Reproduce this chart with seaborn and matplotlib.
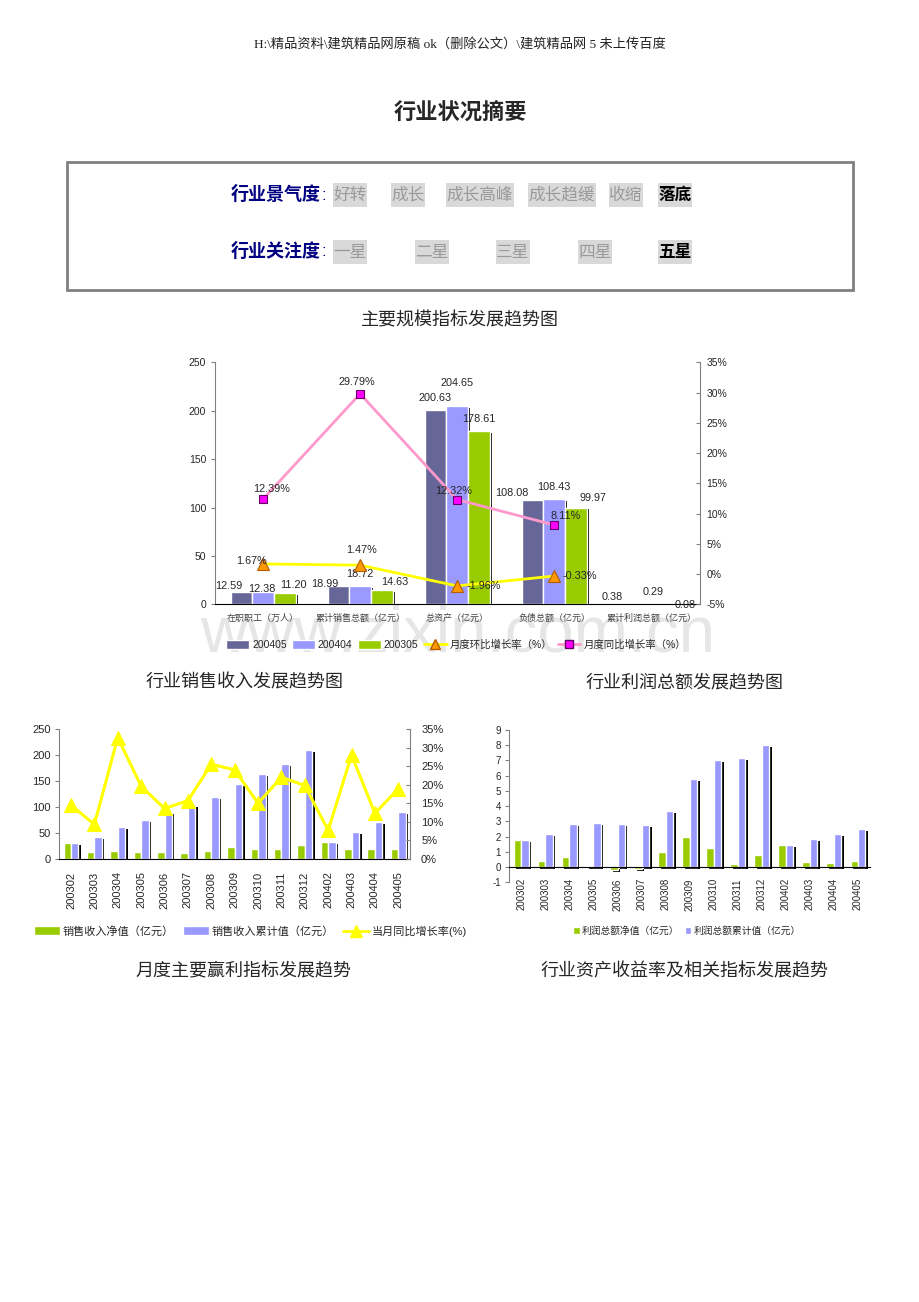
import numpy as np
import pandas as pd
import matplotlib
matplotlib.use('Agg')
import matplotlib.pyplot as plt
import matplotlib.patheffects as pe
from matplotlib.patches import Patch, Rectangle
from matplotlib.lines import Line2D
from matplotlib.ticker import FuncFormatter
import seaborn as sns

sns.set_style('white')
plt.rcParams['font.family'] = ['Liberation Sans', 'Noto Sans CJK SC', 'DejaVu Sans']
plt.rcParams['axes.unicode_minus'] = False

# ---- data: main scale indicators
SCALE_CATS = ['在职职工（万人）', '累计销售总额（亿元）', '总资产（亿元）', '负债总额（亿元）', '累计利润总额（亿元）']
PERIODS = ['200405', '200404', '200305']
VAL_200405 = [12.59, 18.99, 200.63, 108.08, 0.38]
VAL_200404 = [12.38, 18.72, 204.65, 108.43, 0.29]
VAL_200305 = [11.20, 14.63, 178.61, 99.97, 0.08]
MOM_RATE = [1.67, 1.47, -1.96, -0.33]
YOY_RATE = [12.39, 29.79, 12.32, 8.11]

# ---- data: monthly sales / profit
MONTHS = ['200302', '200303', '200304', '200305', '200306', '200307', '200308', '200309',
          '200310', '200311', '200312', '200402', '200403', '200404', '200405']
SALES_NET = [31, 14, 16, 14, 14, 12, 16, 23, 19, 19, 27, 33, 19, 19, 19]
SALES_CUM = [31, 43, 61, 75, 90, 104, 120, 144, 163, 182, 209, 33, 52, 72, 90]
SALES_YOY = [14.5, 9.3, 32.7, 19.6, 13.6, 15.7, 25.5, 24.0, 15.0, 22.0, 19.8, 7.7, 28.0, 12.3, 18.9]
PROFIT_NET = [1.79, 0.41, 0.65, 0.09, -0.18, -0.12, 1.00, 1.99, 1.24, 0.20, 0.81, 1.46, 0.35, 0.30, 0.41]
PROFIT_CUM = [1.79, 2.20, 2.84, 2.90, 2.82, 2.77, 3.69, 5.76, 7.00, 7.14, 7.99, 1.46, 1.86, 2.16, 2.49]

# ---- summary box labels
MOOD_ITEMS = ['好转', '成长', '成长高峰', '成长趋缓', '收缩', '落底']
STAR_ITEMS = ['一星', '二星', '三星', '四星', '五星']

C_SLATE = '#666699'
C_LILAC = '#9999FF'
C_GREEN = '#99CC00'
C_YELLOW = '#FFFF00'
C_PINK = '#FF99CC'

W, H = 920, 1302
PT = 0.72  # points per pixel at dpi 100


def fx(x):
    return x / W


def fy(y):
    return 1 - y / H


def add_shadow(ax):
    # black drop shadow on the right of every bar (Excel style)
    for p in ax.patches:
        p.set_path_effects([pe.SimplePatchShadow(offset=(1.8, -1.4), shadow_rgbFace='black', alpha=1),
                            pe.Normal()])


fig = plt.figure(figsize=(W / 100, H / 100), dpi=100)

# watermark
fig.text(fx(458), fy(651), 'www.zixin.com.cn', fontsize=47, color='#E6E6E6',
         family=['Liberation Sans Narrow', 'Liberation Sans'],
         ha='center', va='baseline', zorder=-1)

# header + title
fig.text(fx(460), fy(44), 'H:\\精品资料\\建筑精品网原稿 ok（删除公文）\\建筑精品网 5 未上传百度',
         ha='center', va='center', fontsize=9.5, color='#222222',
         family=['Liberation Serif', 'Noto Sans CJK SC'])
fig.text(fx(460), fy(113), '行业状况摘要', ha='center', va='center', fontsize=16, fontweight='bold')

# summary box
fig.patches.append(Rectangle((fx(67), fy(290)), (853 - 67) / W, (290 - 162) / H,
                             transform=fig.transFigure, fill=False, edgecolor='#808080', lw=2))

mood_pos = [(333, 367), (391, 425), (446, 514), (528, 596), (609, 643), (658, 692)]
star_pos = [(333, 367), (415, 449), (496, 530), (578, 612), (658, 692)]
for row_y, title, items, pos in [(195, '行业景气度', MOOD_ITEMS, mood_pos),
                                 (252, '行业关注度', STAR_ITEMS, star_pos)]:
    fig.text(fx(321), fy(row_y), title, ha='right', va='center', fontsize=13,
             fontweight='bold', color='#000080')
    fig.text(fx(322), fy(row_y), ':', ha='left', va='center', fontsize=12, color='#000080')
    for i, (label, (x0, x1)) in enumerate(zip(items, pos)):
        fig.patches.append(Rectangle((fx(x0), fy(row_y + 12)), (x1 - x0) / W, 24 / H,
                                     transform=fig.transFigure, facecolor='#D9D9D9', edgecolor='none'))
        last = i == len(items) - 1
        fig.text(fx((x0 + x1) / 2), fy(row_y), label, ha='center', va='center', fontsize=12,
                 color='black' if last else '#9A9A9A', fontweight='bold' if last else 'normal')

fig.text(fx(460), fy(321), '主要规模指标发展趋势图', ha='center', va='center', fontsize=13)
fig.text(fx(245), fy(683), '行业销售收入发展趋势图', ha='center', va='center', fontsize=13)
fig.text(fx(685), fy(683), '行业利润总额发展趋势图', ha='center', va='center', fontsize=13)
fig.text(fx(243), fy(972), '月度主要赢利指标发展趋势', ha='center', va='center', fontsize=13)
fig.text(fx(685), fy(972), '行业资产收益率及相关指标发展趋势', ha='center', va='center', fontsize=13)

# ================= chart 1: main scale indicators
ax1 = fig.add_axes([fx(214.6), fy(604.3), 485 / W, 242 / H])
ax1.set_facecolor('none')
df1 = pd.DataFrame({
    'cat': SCALE_CATS * 3,
    'period': np.repeat(PERIODS, len(SCALE_CATS)),
    'value': VAL_200405 + VAL_200404 + VAL_200305,
})
sns.barplot(data=df1, x='cat', y='value', hue='period', order=SCALE_CATS, hue_order=PERIODS,
            palette=[C_SLATE, C_LILAC, C_GREEN], width=0.67, saturation=1, errorbar=None,
            legend=False, ax=ax1)
add_shadow(ax1)

# label placement (px, relative to bar top centre), one row per period
bar_lab_off = [
    [(-13, 6), (-14, 2), (0, 12), (-21, 7), (-17, 7)],
    [(-1, 3), (0, 12), (0, 23), (0, 12), (2, 12)],
    [(9, 8), (13, 8), (0, 12), (17, 10), (12, -1)],
]
for cont, offs in zip(ax1.containers, bar_lab_off):
    for bar, (dx, dy) in zip(cont, offs):
        top = bar.get_y() + bar.get_height()
        ax1.annotate(f'{top:.2f}', (bar.get_x() + bar.get_width() / 2, top),
                     xytext=(dx * PT, dy * PT), textcoords='offset points',
                     ha='center', va='center', fontsize=7.8)

ax1b = ax1.twinx()
xpos = np.arange(len(MOM_RATE))
sns.lineplot(x=xpos, y=MOM_RATE, ax=ax1b, color=C_YELLOW, lw=2, marker='^', markersize=8,
             markerfacecolor='#FF9900', markeredgecolor='#B35C00', markeredgewidth=0.8)
sns.lineplot(x=xpos, y=YOY_RATE, ax=ax1b, color=C_PINK, lw=2, marker='s', markersize=6,
             markerfacecolor='#FF00FF', markeredgecolor='#660066', markeredgewidth=0.8)
mom_off = [(-12, 3), (1, 15), (27, 0), (26, 0)]
yoy_off = [(8, 10), (-3, 12), (-4, 9), (12, 9)]
for x, v, (dx, dy) in zip(xpos, MOM_RATE, mom_off):
    ax1b.annotate(f'{v:.2f}%', (x, v), xytext=(dx * PT, dy * PT), textcoords='offset points',
                  ha='center', va='center', fontsize=7.8)
for x, v, (dx, dy) in zip(xpos, YOY_RATE, yoy_off):
    ax1b.annotate(f'{v:.2f}%', (x, v), xytext=(dx * PT, dy * PT), textcoords='offset points',
                  ha='center', va='center', fontsize=7.8)

ax1.set_xlim(-0.5, 4.5)
ax1.set_ylim(0, 250)
ax1.set_yticks(range(0, 251, 50))
ax1b.set_ylim(-5, 35)
ax1b.set_yticks(range(-5, 36, 5))
ax1b.yaxis.set_major_formatter(FuncFormatter(lambda v, _: f'{v:.0f}%'))
ax1.set_xlabel('')
ax1.set_ylabel('')
ax1b.set_ylabel('')
ax1.set_xticks(range(len(SCALE_CATS)))
ax1.set_xticklabels(SCALE_CATS)
ax1.set_xticks(np.arange(0.5, len(SCALE_CATS) - 0.5, 1), minor=True)
ax1.tick_params(axis='x', which='major', length=0, pad=7, labelsize=6.5, labelcolor='#444444')
ax1.tick_params(axis='x', which='minor', direction='in', length=3, color='black')
ax1.tick_params(axis='y', direction='out', length=3, color='#808080', labelsize=7.5, pad=3, left=True)
ax1b.tick_params(axis='y', direction='in', length=3, color='#808080', labelsize=7.5, pad=5, right=True)
for a in (ax1, ax1b):
    a.spines['top'].set_visible(False)
ax1.spines['right'].set_visible(False)
ax1.spines['left'].set_color('#808080')
ax1.spines['bottom'].set_color('black')
ax1b.spines['left'].set_visible(False)
ax1b.spines['bottom'].set_visible(False)
ax1b.spines['right'].set_color('#808080')

h1 = [Patch(facecolor=c) for c in (C_SLATE, C_LILAC, C_GREEN)] + [
    Line2D([], [], color=C_YELLOW, lw=2, marker='^', markersize=7, markerfacecolor='#FF9900',
           markeredgecolor='#B35C00'),
    Line2D([], [], color=C_PINK, lw=2, marker='s', markersize=6, markerfacecolor='#FF00FF',
           markeredgecolor='#660066')]
fig.legend(h1, PERIODS + ['月度环比增长率（%）', '月度同比增长率（%）'], loc='center left',
           bbox_to_anchor=(fx(226), fy(645)), ncol=5, frameon=False, fontsize=7.5,
           handlelength=2.2, handleheight=0.9, columnspacing=0.5, handletextpad=0.3,
           borderpad=0, borderaxespad=0)

# ================= chart 2: sales revenue
ax2 = fig.add_axes([fx(59.3), fy(859), 350.7 / W, 130 / H])
ax2.set_facecolor('none')
sales_labels = ['销售收入净值（亿元）', '销售收入累计值（亿元）']
df2 = pd.DataFrame({
    'month': MONTHS * 2,
    'series': np.repeat(sales_labels, len(MONTHS)),
    'value': SALES_NET + SALES_CUM,
})
sns.barplot(data=df2, x='month', y='value', hue='series', order=MONTHS, hue_order=sales_labels,
            palette=[C_GREEN, C_LILAC], width=0.64, saturation=1, errorbar=None,
            legend=False, ax=ax2)
add_shadow(ax2)
ax2b = ax2.twinx()
sns.lineplot(x=np.arange(len(MONTHS)), y=SALES_YOY, ax=ax2b, color=C_YELLOW, lw=2.2, marker='^',
             markersize=10, markerfacecolor=C_YELLOW, markeredgecolor=C_YELLOW)
ax2.set_xlim(-0.5, len(MONTHS) - 0.5)
ax2.set_ylim(0, 250)
ax2.set_yticks(range(0, 251, 50))
ax2b.set_ylim(0, 35)
ax2b.set_yticks(range(0, 36, 5))
ax2b.yaxis.set_major_formatter(FuncFormatter(lambda v, _: f'{v:.0f}%'))
ax2.set_xlabel('')
ax2.set_ylabel('')
ax2b.set_ylabel('')
ax2.set_xticks(range(len(MONTHS)))
ax2.set_xticklabels(MONTHS, rotation=90)
ax2.set_xticks(np.arange(0.5, len(MONTHS) - 0.5, 1), minor=True)
ax2.tick_params(axis='x', which='major', length=0, pad=9, labelsize=8)
ax2.tick_params(axis='x', which='minor', direction='in', length=3, color='black')
ax2.tick_params(axis='y', direction='out', length=3, color='#808080', labelsize=8, pad=3, left=True)
ax2b.tick_params(axis='y', direction='in', length=3, color='#808080', labelsize=8, pad=8, right=True)
for a in (ax2, ax2b):
    a.spines['top'].set_visible(False)
ax2.spines['right'].set_visible(False)
ax2.spines['left'].set_color('#808080')
ax2.spines['bottom'].set_color('black')
ax2b.spines['left'].set_visible(False)
ax2b.spines['bottom'].set_visible(False)
ax2b.spines['right'].set_color('#808080')

h2 = [Patch(facecolor=C_GREEN), Patch(facecolor=C_LILAC),
      Line2D([], [], color=C_YELLOW, lw=2, marker='^', markersize=8, markerfacecolor=C_YELLOW,
             markeredgecolor=C_YELLOW)]
fig.legend(h2, sales_labels + ['当月同比增长率(%)'], loc='center left',
           bbox_to_anchor=(fx(34), fy(931)), ncol=3, frameon=False, fontsize=8,
           handlelength=2.3, handleheight=0.8, columnspacing=0.8, handletextpad=0.3,
           borderpad=0, borderaxespad=0)

# ================= chart 3: profit
ax3 = fig.add_axes([fx(509.3), fy(882.3), 360.7 / W, 152.3 / H])
ax3.set_facecolor('none')
# move the category axis to y=0 first (this resets tick settings)
ax3.spines['bottom'].set_position(('data', 0))
profit_labels = ['利润总额净值（亿元）', '利润总额累计值（亿元）']
df3 = pd.DataFrame({
    'month': MONTHS * 2,
    'series': np.repeat(profit_labels, len(MONTHS)),
    'value': PROFIT_NET + PROFIT_CUM,
})
sns.barplot(data=df3, x='month', y='value', hue='series', order=MONTHS, hue_order=profit_labels,
            palette=[C_GREEN, C_LILAC], width=0.62, saturation=1, errorbar=None,
            legend=False, ax=ax3)
add_shadow(ax3)
ax3.set_xlim(-0.5, len(MONTHS) - 0.5)
ax3.set_ylim(-1, 9)
ax3.set_yticks(range(-1, 10))
ax3.set_xlabel('')
ax3.set_ylabel('')
ax3.set_xticks(range(len(MONTHS)))
ax3.set_xticklabels(MONTHS, rotation=90)
ax3.set_xticks(np.arange(0.5, len(MONTHS) - 0.5, 1), minor=True)
ax3.spines['bottom'].set_color('black')
ax3.spines['left'].set_color('#808080')
ax3.spines['top'].set_visible(False)
ax3.spines['right'].set_visible(False)
ax3.tick_params(axis='x', which='major', length=0, pad=8, labelsize=7)
ax3.tick_params(axis='x', which='minor', direction='in', length=3, color='black')
ax3.tick_params(axis='y', direction='out', length=3, color='#808080', labelsize=7, pad=3, left=True)
plt.setp(ax3.get_xticklabels(), rotation=90)

h3 = [Patch(facecolor=C_GREEN), Patch(facecolor=C_LILAC)]
fig.legend(h3, profit_labels, loc='center', bbox_to_anchor=(fx(687), fy(931)), ncol=2,
           frameon=False, fontsize=7, handlelength=0.7, handleheight=0.7, columnspacing=0.5,
           handletextpad=0.2, borderpad=0, borderaxespad=0)

fig.savefig('out.png', dpi=100)
